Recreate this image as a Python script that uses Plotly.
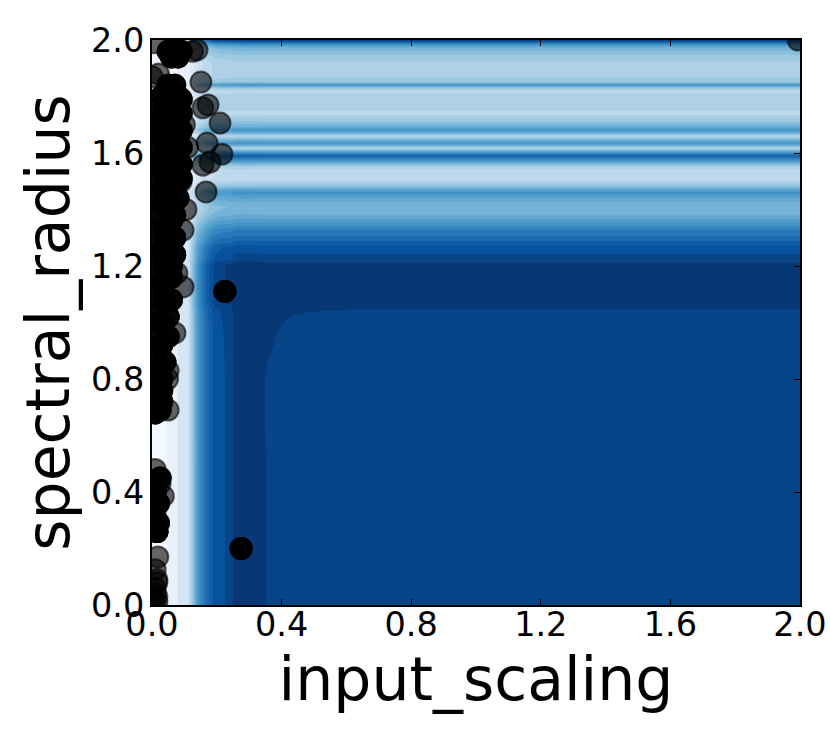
import plotly.graph_objects as go

tick_vals = [0.0, 0.4, 0.8, 1.2, 1.6, 2.0]
tick_text = ["0.0", "0.4", "0.8", "1.2", "1.6", "2.0"]

# Horizontal band profile, read at the right of the picture
y_knots = [0.0, 0.5, 0.83, 0.9, 0.97, 1.02, 1.045, 1.055, 1.07, 1.19, 1.204, 1.221, 1.242, 1.264,
           1.281, 1.306, 1.327, 1.342, 1.363, 1.388, 1.409, 1.427, 1.444, 1.458, 1.469,
           1.483, 1.504, 1.529, 1.55, 1.568, 1.582, 1.589, 1.596, 1.607, 1.618, 1.625,
           1.635, 1.646, 1.66, 1.671, 1.681, 1.692, 1.71, 1.731, 1.742, 1.752, 1.77,
           1.805, 1.819, 1.83, 1.841, 1.851, 1.876, 1.922, 1.947, 1.972, 1.982, 1.99, 2.0]
y_level = [0.925, 0.925, 0.926, 0.928, 0.931, 0.937, 0.945, 0.96, 0.975, 0.975, 0.975, 0.92, 0.90, 0.88,
           0.82, 0.75, 0.70, 0.64, 0.56, 0.48, 0.46, 0.50, 0.56, 0.62, 0.56,
           0.40, 0.28, 0.26, 0.33, 0.55, 0.72, 0.82, 0.72, 0.50, 0.30, 0.48,
           0.62, 0.48, 0.30, 0.50, 0.62, 0.50, 0.40, 0.32, 0.26, 0.32, 0.33,
           0.32, 0.28, 0.40, 0.62, 0.40, 0.33, 0.34, 0.40, 0.48, 0.60, 0.75, 0.97]
y_ridge = [1, 1, 1, 1, 1, 1, 1, 1, 1, 1, 0.2, 0, 0, 0,
           0, 0, 0, 0, 0, 0, 0, 0, 0, 0, 0,
           0, 0, 0, 0, 0, 0, 0, 0, 0, 0, 0,
           0, 0, 0, 0, 0, 0, 0, 0, 0, 0, 0,
           0, 0, 0, 0, 0, 0, 0, 0, 0, 0, 0, 0]

# Vertical edge profile, read at the bottom of the picture
x_knots = [0.0, 0.04, 0.05, 0.077, 0.08, 0.111, 0.117, 0.127, 0.142, 0.164, 0.179, 0.194,
           0.228, 0.247, 0.253, 0.345, 0.352, 0.37, 0.39, 0.43, 0.6, 0.8, 1.2, 2.0]
x_edge = [0.03, 0.03, 0.07, 0.08, 0.17, 0.17, 0.30, 0.45, 0.65, 0.80, 0.88, 0.94,
          0.975, 0.98, 1.0, 1.0, 1.0, 1.0, 1.0, 1.0, 1.0, 1.0, 1.0, 1.0]
x_ridge = [0, 0, 0, 0, 0, 0, 0, 0, 0, 0, 0, 0,
           0, 0, 0.05, 0.05, 0.024, 0.022, 0.019, 0.013, 0.005, 0, 0, 0]

# Samples stacked into solid black
dense_x = [0.05, 0.07, 0.09, 0.06, 0.08, 0.07, 0.05, 0.03, 0.08, 0.09, 0.06, 0.04, 0.02, 0.07, 0.09,
           0.05, 0.03, 0.01, 0.08, 0.09, 0.05, 0.03, 0.01, 0.08, 0.09, 0.06, 0.04, 0.02, 0.08, 0.09,
           0.05, 0.03, 0.01, 0.08, 0.09, 0.06, 0.04, 0.02, 0.08, 0.05, 0.03, 0.01, 0.07, 0.06,
           0.04, 0.02, 0.07, 0.05, 0.03, 0.01, 0.07, 0.06, 0.04, 0.02, 0.06, 0.03, 0.01, 0.06,
           0.04, 0.01, 0.05, 0.03, 0.0, 0.05, 0.03, 0.01, 0.04, 0.02, 0.0, 0.03, 0.03, 0.01,
           0.03, 0.01, 0.025, 0.01, 0.025, 0.01, 0.02, 0.0, 0.02, 0.01, 0.015, 0.015, 0.225, 0.275]
dense_y = [1.96, 1.96, 1.96, 1.94, 1.94, 1.84, 1.84, 1.80, 1.80, 1.79, 1.78, 1.78, 1.74, 1.74, 1.74,
           1.72, 1.72, 1.68, 1.68, 1.68, 1.66, 1.66, 1.62, 1.62, 1.62, 1.60, 1.60, 1.56, 1.56, 1.56,
           1.54, 1.54, 1.50, 1.50, 1.51, 1.48, 1.48, 1.44, 1.44, 1.42, 1.42, 1.38, 1.38, 1.36,
           1.32, 1.32, 1.30, 1.26, 1.26, 1.24, 1.24, 1.20, 1.20, 1.18, 1.16, 1.14, 1.12, 1.08,
           1.08, 1.04, 1.02, 1.0, 0.98, 0.95, 0.92, 0.90, 0.86, 0.84, 0.82, 0.80, 0.76, 0.74,
           0.72, 0.70, 0.69, 0.68, 0.45, 0.40, 0.36, 0.33, 0.29, 0.27, 0.26, 0.26, 1.11, 0.20]

# Samples still translucent
light_x = [0.125, 0.139, 0.151, 0.173, 0.157, 0.21, 0.17, 0.216, 0.179, 0.157, 0.167, 0.096,
           0.077, 0.096, 0.071, 0.05, 0.05, 0.048, 0.01, 0.025, 0.035, 0.01, 0.018, 0.01, 0.015,
           0.015, 0.015, 0.01, 0.005, 0.01, 0.015, 1.994, 0.02, 0.11, 0.10, 0.09, 0.105, 0.01, 0.0]
light_y = [1.96, 1.965, 1.851, 1.77, 1.76, 1.706, 1.635, 1.596, 1.568, 1.557, 1.462, 1.327,
           1.175, 1.126, 0.963, 0.83, 0.69, 0.80, 0.48, 0.43, 0.385, 0.32, 0.17, 0.125, 0.08,
           0.03, 0.01, 0.04, 0.015, 0.06, 0.09, 2.0, 1.88, 1.62, 1.70, 1.50, 1.40, 1.99, 1.87]

z = [[min(0.99, a * lev + r * w) for a, r in zip(x_edge, x_ridge)]
     for lev, w in zip(y_level, y_ridge)]

fig = go.Figure()
fig.add_trace(go.Contour(
    x=x_knots, y=y_knots, z=z,
    colorscale="Blues", zmin=0, zmax=1, zauto=False,
    contours=dict(start=0, end=1, size=0.05, coloring="fill", showlines=False),
    line=dict(width=0), showscale=False, hoverinfo="skip"))
fig.add_trace(go.Scatter(
    x=light_x, y=light_y, mode="markers",
    marker=dict(size=21, color="rgba(0,0,0,0.6)", line=dict(color="rgba(0,0,0,0.6)", width=2))))
fig.add_trace(go.Scatter(
    x=dense_x * 4, y=dense_y * 4, mode="markers",
    marker=dict(size=21, color="rgba(0,0,0,0.6)", line=dict(color="rgba(0,0,0,0.6)", width=2))))

axis = dict(range=[0, 2], tickvals=tick_vals, ticktext=tick_text, ticks="inside", ticklen=6,
            tickwidth=1, tickcolor="black", showline=True, linecolor="black", linewidth=2,
            mirror="allticks", showgrid=False, zeroline=False,
            tickfont=dict(family="DejaVu Sans", size=33.5, color="black"))
fig.update_xaxes(**axis, ticklabelstandoff=-11, title=dict(text="input_scaling", standoff=2,
                 font=dict(family="DejaVu Sans", size=60, color="black")))
fig.update_yaxes(**axis, ticklabelstandoff=-1, title=dict(text="spectral_radius", standoff=2,
                 font=dict(family="DejaVu Sans", size=60, color="black")))
fig.update_layout(width=830, height=738, showlegend=False, plot_bgcolor="white",
                  paper_bgcolor="white", margin=dict(l=152, r=30, t=40, b=133, autoexpand=False))
fig.write_html("out.html", config={"displayModeBar": False},
               post_script="document.body.style.margin='0';document.documentElement.style.overflow='hidden';")
